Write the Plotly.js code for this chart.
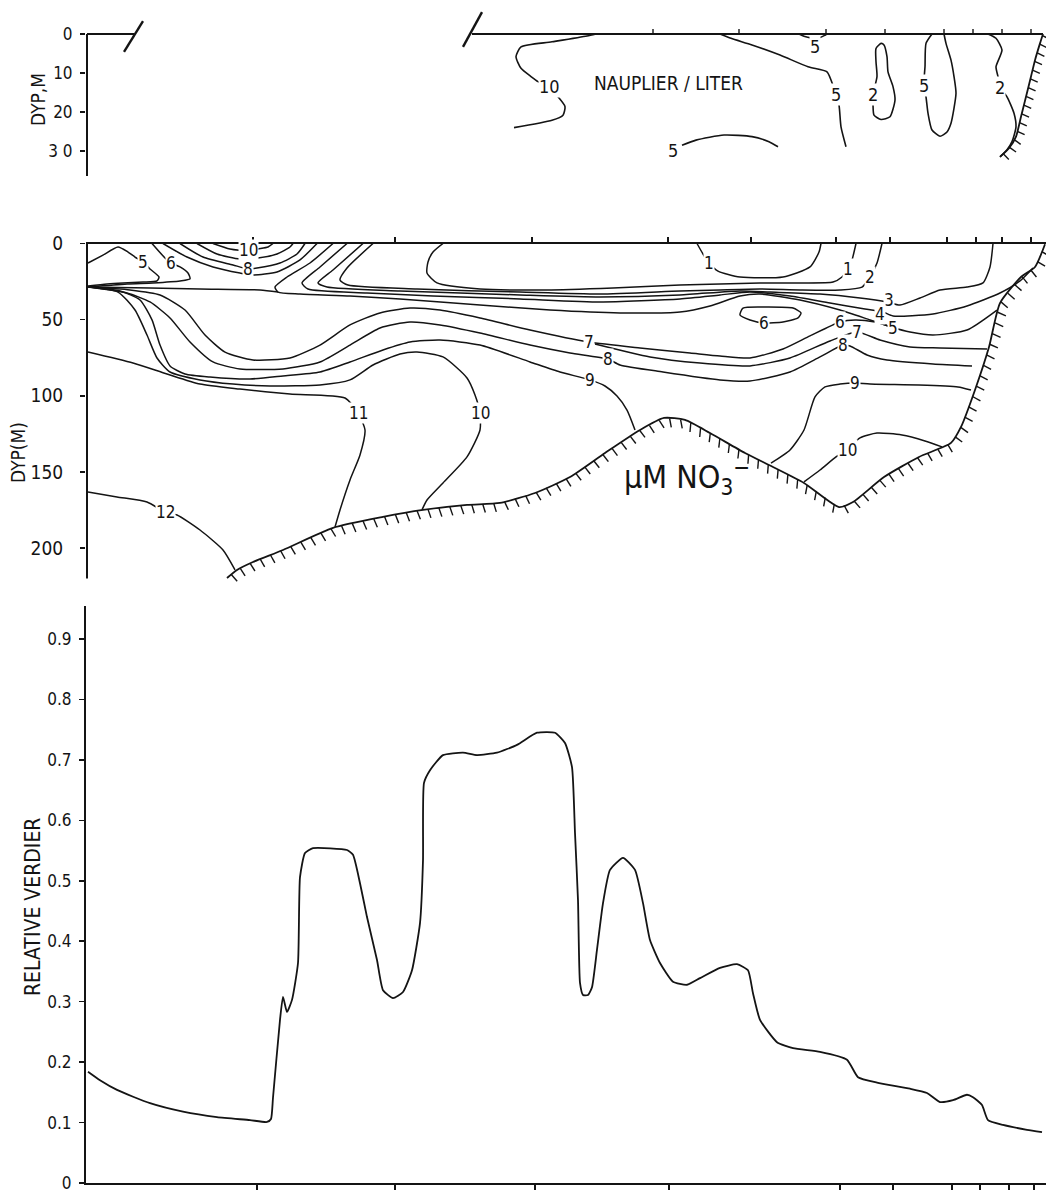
<!DOCTYPE html>
<html><head><meta charset="utf-8">
<script src="https://cdn.plot.ly/plotly-3.0.1.min.js"></script>
<style>html,body{margin:0;padding:0;background:#fff}#chart{width:1048px;height:1191px}</style>
</head><body><div id="chart"></div>
<script>
// ---------- DATA (x = distance along section, arbitrary units; d = depth in m) ----------
// Top panel: nauplii per liter
const naup10_x = [509,500,465,434,429,434,444,451,462,471,478,476,465,427];
const naup10_d = [0,0.5,2.0,3.3,5.8,8.8,10.9,12.2,13.5,16.1,18.6,20.8,22.1,24.0];
const naup5a_x = [712,717,724,733,738,740];
const naup5a_d = [0,0.6,1.0,0.9,0.3,0];
const naup5b_x = [633,644,665,693,721,740,744,749,752,754,759];
const naup5b_d = [0,1.1,2.8,5.4,8.4,9.7,11.8,15.6,18.2,23.8,28.9];
const naup2a_x = [794,789,789,790,786,786,787,794,803,808,806,801,800,797,794];
const naup2a_d = [2.4,3.7,7.1,10.9,15.6,18.2,20.8,21.9,21.2,16.9,13.5,9.7,5.8,2.8,2.4];
const naup5c_x = [845,839,838,837,837,839,841,845,853,860,864,869,867,864,859,857];
const naup5c_d = [0,2.4,8.4,11.8,13.3,16.1,20.3,24.6,26.2,25.1,22.9,15.2,10.9,6.7,2.4,0];
const naup2b_x = [901,909,915,909,911,913,920,927,929,925,920,913];
const naup2b_d = [0,1.1,4.1,8.4,10.9,13.7,16.1,20.3,23.8,27.6,29.7,31.5];
const naup5d_x = [595,609,637,665,682,691];
const naup5d_d = [28.5,27.2,25.9,26.3,27.6,28.9];
const shoreTop_x = [913,922,929,934,939,944,948,953,956];
const shoreTop_d = [31.5,29.3,26.3,21.2,16.1,10.9,6.7,2.4,0];
const topSurface_x = [0,47,null,385,956];
const topSurface_d = [0,0,null,0,0];
const breakA_x = [37,56], breakA_d = [4.6,-3.3];
const breakB_x = [376,395], breakB_d = [3.3,-5.6];
const topStations = [566,652,739,798,857,886,915,944];
const topLabel_text = ["10","5","5","2","5","2","5"];
const topLabel_x = [462,728,749,786,837,913,586];
const topLabel_d = [13.5,3.2,15.6,15.6,13.3,13.7,29.9];
const topDepthTicks = [0,10,20,30];
const topDepthText = ["0","10","20","3 0"];

// Middle panel: nitrate (uM)
const n5a_x = [1,16,31,41,48,56,63,72,70,56,36,20,1];
const n5a_d = [12.8,7.6,2.3,5.6,8.9,12.1,16.7,22.0,24.6,25.3,25.9,26.6,27.9];
const n6a_x = [65,78,84,93,101,103,93,66,40,1];
const n6a_d = [0,9.5,12.8,15.4,19.4,23.3,24.6,25.9,26.6,28.6];
const n7b_x = [76,100,126,153,166,190,213,230];
const n7b_d = [0,8.9,15.4,19.4,20.7,18.7,10.8,0];
const n8b_x = [93,116,146,161,170,193,210,218];
const n8b_d = [0,8.9,14.1,16.7,16.1,12.8,6.9,0];
const n9b_x = [110,130,153,171,190,203,206];
const n9b_d = [0,6.9,10.2,9.5,6.9,2.3,0];
const n10b_x = [126,143,161,171,181,186];
const n10b_d = [0,3.6,4.9,3.6,2.3,0];
const nBand_x = [1,63,113,173,191];
const nBand_d = [28.6,29.2,29.9,30.5,31.9];
const n5_x = [246,223,200,188,191,213,263,313,393,463,533,593,623,653,673,713,753,783,804,823,846,880,910];
const n5_d = [0,12.8,22.0,28.6,31.9,33.2,34.5,36.4,40.4,43.7,45.6,45.0,41.0,34.5,33.2,37.1,43.7,50.2,54.8,58.1,60.1,56.8,43.7];
const n4_x = [260,233,215,221,280,346,433,513,593,633,663,703,743,778,796,806,846,880,913,933,946];
const n4_d = [0,15.4,25.9,29.9,32.5,34.5,36.4,38.4,36.4,33.8,31.9,34.5,39.1,43.0,45.0,47.6,46.3,41.0,32.5,24.6,16.1];
const n3_x = [276,246,231,240,313,433,513,593,653,683,733,773,800,813,833,853,880,896,903,906];
const n3_d = [0,17.4,25.9,28.6,31.2,33.8,35.1,33.8,31.2,31.9,33.2,35.8,38.4,40.4,35.8,30.5,28.6,25.9,15.4,0];
const n2_x = [286,260,253,261,330,433,513,593,633,673,713,753,775,783,790,795];
const n2_d = [0,16.1,24.0,27.3,29.9,31.9,33.2,31.2,30.5,29.9,30.5,30.5,28.6,22.0,12.8,0];
const n1_x = [356,346,341,340,350,393,460,526,593,633,673,713,746,755,761,765,769];
const n1_d = [0,5.6,12.1,19.4,25.9,29.9,30.5,29.2,27.3,26.6,25.9,25.9,25.3,22.0,16.7,10.8,0];
const n1i_x = [610,616,622,631,653,696,723,732,734];
const n1i_d = [0,6.9,12.8,18.1,22.0,22.0,15.4,5.6,0];
const n6loop_x = [656,680,706,714,711,696,677,663,653,656];
const n6loop_d = [42.4,41.7,42.4,45.6,48.9,51.6,52.2,50.2,47.0,42.4];
const n7_x = [1,43,73,98,118,138,166,203,233,263,293,323,353,393,443,502,553,603,633,663,696,723,753,768,788,804];
const n7_d = [28.6,30.5,33.8,43.7,60.1,71.3,76.5,75.2,66.7,53.5,45.6,42.4,43.7,48.9,56.8,64.7,68.6,71.9,73.9,75.2,69.3,60.7,51.6,50.2,51.6,54.8];
const n7r_x = [508,563,613,663,703,743,770,793,823,853,900];
const n7r_d = [66.0,74.5,78.5,80.4,75.2,64.0,58.1,63.4,68.0,68.6,69.3];
const n8_x = [1,40,63,83,103,126,153,196,233,263,293,323,353,393,443,483,521,533,576,633,663,703,733,756,763,780,800,846,885];
const n8_d = [28.6,32.5,38.4,48.9,64.7,77.8,82.4,82.4,77.8,66.7,55.5,51.6,53.5,58.8,66.7,71.9,75.9,79.8,84.4,89.6,90.3,84.4,74.5,66.7,67.3,73.2,76.5,79.1,80.4];
const n9_x = [1,33,53,65,73,83,98,123,163,196,233,263,296,323,353,393,443,473,503,518,530,540,548];
const n9_d = [28.6,31.2,37.1,50.2,66.7,80.4,85.7,87.7,89.0,87.0,84.4,77.8,69.9,64.7,63.4,66.7,77.8,84.4,89.6,93.6,100.2,109.4,122.5];
const n9r_x = [684,703,717,728,738,753,768,783,832,871,884];
const n9r_d = [144.2,135.6,122.5,100.8,94.2,92.3,91.6,92.3,92.9,94.2,96.2];
const n10_x = [1,31,48,60,70,83,113,146,183,233,263,286,313,330,356,380,388,393,393,380,356,340,335];
const n10_d = [28.6,31.9,43.7,60.1,75.2,84.4,89.6,92.3,93.6,92.9,89.6,79.8,72.6,71.3,74.5,88.3,99.5,111.3,122.5,140.2,157.3,168.5,175.0];
const n10r_x = [717,733,749,760,773,790,815,838,855];
const n10r_d = [156.6,148.8,140.2,135.6,127.7,124.5,125.8,129.7,133.6];
const n11_x = [1,46,80,113,153,203,258,271,278,273,263,253,248];
const n11_d = [71.3,78.5,85.7,92.3,95.6,98.9,101.5,111.3,122.5,138.9,155.3,175.0,186.2];
const n12_x = [1,30,60,78,90,113,136,148];
const n12_d = [163.2,166.5,169.8,176.4,178.3,188.2,201.3,214.4];
const bottom_x = [140,150,166,196,246,296,336,380,413,448,483,518,553,577,598,623,658,686,717,752,766,797,832,864,874,888,902,913,934,948,958];
const bottom_d = [219.7,214.4,209.2,201.3,186.8,179.6,175.0,171.7,170.4,163.9,153.4,137.6,122.5,114.6,115.9,124.5,137.6,146.8,157.3,173.1,169.8,153.4,140.2,131.0,120.5,96.2,68.0,39.1,22.0,15.4,0.5];
const midStations = [166,308,445,581,664,749,803,860,889,915,944];
const midDepthTicks = [0,50,100,150,200];
const midLabel_text = ["5","6","10","8","1","1","2","3","4","5","6","6","7","7","8","8","9","9","10","10","11","12"];
const midLabel_x = [56,84,161,161,622,761,783,802,793,806,677,753,502,770,521,756,503,768,393,760,271,78];
const midLabel_d = [12.1,12.8,4.3,16.7,12.8,16.7,22.0,36.8,46.2,55.4,52.2,51.6,64.7,58.1,75.9,66.7,89.6,91.6,111.3,135.6,111.3,176.4];

// Bottom panel: relative values
const rel_x = [1,13,30,63,96,130,163,180,184,186,193,196,200,205,211,213,218,226,260,266,273,280,290,296,306,316,325,333,336,337,343,356,376,390,410,430,450,468,478,485,488,491,493,496,501,505,510,516,523,536,548,556,563,573,586,600,613,633,650,661,666,673,690,706,733,760,771,790,823,840,853,866,880,886,895,901,916,940,955];
const rel_v = [0.184,0.170,0.154,0.132,0.118,0.109,0.104,0.101,0.106,0.141,0.270,0.308,0.283,0.303,0.364,0.506,0.546,0.554,0.551,0.543,0.496,0.440,0.369,0.319,0.306,0.316,0.352,0.430,0.534,0.662,0.683,0.708,0.712,0.708,0.712,0.725,0.745,0.745,0.728,0.688,0.579,0.468,0.331,0.311,0.311,0.324,0.386,0.463,0.518,0.538,0.518,0.463,0.402,0.364,0.333,0.328,0.339,0.356,0.362,0.352,0.314,0.270,0.233,0.223,0.217,0.204,0.175,0.166,0.156,0.149,0.134,0.137,0.146,0.142,0.129,0.104,0.096,0.088,0.084];
const botStations = [170,308,448,582,753,806,865,893,922,947];
const relTicks = [0,0.1,0.2,0.3,0.4,0.5,0.6,0.7,0.8,0.9];
const relTickText = ["0","0.1","0.2","0.3","0.4","0.5","0.6","0.7","0.8","0.9"];

// ---------- LAYOUT GEOMETRY ----------
const W = 1048, H = 1191;
const INK = '#141414';
const FONT = '"DejaVu Sans Condensed","DejaVu Sans",sans-serif';
const XR = [-1, 959];
const XDOM = [86/W, 1046/W];
const topDom = [1-176/H, 1], topRange = [36.4, -8.72];
const midDom = [1-590/H, 1-243.5/H], midRange = [227.6, 0];
const botDom = [1-1183/H, 1-606/H], botRange = [0, 0.9547];
const pxX = (XDOM[1]-XDOM[0])*W/(XR[1]-XR[0]);
const pxYtop = (topDom[1]-topDom[0])*H/Math.abs(topRange[0]-topRange[1]);
const pxYmid = (midDom[1]-midDom[0])*H/Math.abs(midRange[0]-midRange[1]);

function ln(x, y, xa, ya, w, shape) {
  return {type:'scatter', mode:'lines', x:x, y:y, xaxis:xa, yaxis:ya, hoverinfo:'skip', showlegend:false,
    line:{color:INK, width:w||1.5, shape:shape||'spline', smoothing:0.6}};
}
function hatch(xs, ds, sx, sy, spacing, len) {
  const P = xs.map((x,i)=>[x*sx, ds[i]*sy]);
  const ox=[], oy=[];
  let carry = spacing/2;
  for (let i=0;i<P.length-1;i++){
    const x0=P[i][0], y0=P[i][1], x1=P[i+1][0], y1=P[i+1][1];
    const dx=x1-x0, dy=y1-y0, L=Math.hypot(dx,dy);
    if (L===0) continue;
    const tx=dx/L, ty=dy/L;
    let ex=-ty+0.35, ey=tx+0.35; const el=Math.hypot(ex,ey); ex/=el; ey/=el;
    let s=carry;
    while (s<=L){
      const px=x0+tx*s, py=y0+ty*s;
      ox.push(px/sx, (px+ex*len)/sx, null);
      oy.push(py/sy, (py+ey*len)/sy, null);
      s+=spacing;
    }
    carry = s-L;
  }
  return {x:ox, y:oy};
}
function tickSegs(vals, y0, y1){
  const x=[], y=[];
  vals.forEach(v=>{x.push(v,v,null); y.push(y0,y1,null);});
  return {x:x, y:y};
}

const traces = [];
// top panel
traces.push(ln(topSurface_x, topSurface_d, 'x','y', 2.2, 'linear'));
traces.push(ln(breakA_x, breakA_d, 'x','y', 2.4, 'linear'));
traces.push(ln(breakB_x, breakB_d, 'x','y', 2.4, 'linear'));
const tt = tickSegs(topStations, 0, -1.3);
traces.push(ln(tt.x, tt.y, 'x','y', 1.4, 'linear'));
traces.push(ln([0,0],[0,36.4],'x','y',2,'linear'));
[[naup10_x,naup10_d],[naup5a_x,naup5a_d],[naup5b_x,naup5b_d],[naup2a_x,naup2a_d],[naup5c_x,naup5c_d],[naup2b_x,naup2b_d],[naup5d_x,naup5d_d]]
  .forEach(p=>traces.push(ln(p[0],p[1],'x','y',1.6)));
traces.push(ln(shoreTop_x, shoreTop_d, 'x','y', 1.8));
const hTop = hatch(shoreTop_x, shoreTop_d, pxX, pxYtop, 9, 8);
traces.push(ln(hTop.x, hTop.y, 'x','y', 1.4, 'linear'));

// middle panel
traces.push(ln([0,0],[0,220],'x2','y2',2,'linear'));
[[n5a_x,n5a_d],[n6a_x,n6a_d],[n7b_x,n7b_d],[n8b_x,n8b_d],[n9b_x,n9b_d],[n10b_x,n10b_d],[nBand_x,nBand_d],
 [n5_x,n5_d],[n4_x,n4_d],[n3_x,n3_d],[n2_x,n2_d],[n1_x,n1_d],[n1i_x,n1i_d],[n6loop_x,n6loop_d],
 [n7_x,n7_d],[n7r_x,n7r_d],[n8_x,n8_d],[n9_x,n9_d],[n9r_x,n9r_d],[n10_x,n10_d],[n10r_x,n10r_d],[n11_x,n11_d],[n12_x,n12_d]]
  .forEach(p=>traces.push(ln(p[0],p[1],'x2','y2',1.5)));
traces.push(ln(bottom_x, bottom_d, 'x2','y2', 1.8));
const hMid = hatch(bottom_x, bottom_d, pxX, pxYmid, 11, 9);
traces.push(ln(hMid.x, hMid.y, 'x2','y2', 1.4, 'linear'));

// bottom panel
traces.push({type:'scatter', mode:'lines', x:rel_x, y:rel_v, xaxis:'x3', yaxis:'y3', hoverinfo:'skip', showlegend:false,
  line:{color:INK, width:1.8, shape:'spline', smoothing:0.5}});

const ann = [];
function lab(text, x, y, xr, yr, size, bg) {
  ann.push({text:text, x:x, y:y, xref:xr, yref:yr, showarrow:false, xanchor:'center', yanchor:'middle',
    font:{family:FONT, size:size, color:INK}, bgcolor: bg ? '#ffffff' : 'rgba(0,0,0,0)', borderpad:0});
}
topLabel_text.forEach((t,i)=>lab(t, topLabel_x[i], topLabel_d[i], 'x','y',18,true));
lab('NAUPLIER / LITER', 581, 12.6, 'x','y', 19, true);
midLabel_text.forEach((t,i)=>lab(t, midLabel_x[i], midLabel_d[i], 'x2','y2',17,true));
lab('μM NO<sub>3</sub><sup>−</sup>', 600, 153.4, 'x2','y2', 32, false);
// axis titles
ann.push({text:'DYP,M', x:38/W, y:1-100/H, xref:'paper', yref:'paper', showarrow:false, textangle:-90,
  xanchor:'center', yanchor:'middle', font:{family:FONT, size:19, color:INK}});
ann.push({text:'DYP(M)', x:18/W, y:1-453/H, xref:'paper', yref:'paper', showarrow:false, textangle:-90,
  xanchor:'center', yanchor:'middle', font:{family:FONT, size:19, color:INK}});
ann.push({text:'RELATIVE VERDIER', x:33/W, y:1-907/H, xref:'paper', yref:'paper', showarrow:false, textangle:-90,
  xanchor:'center', yanchor:'middle', font:{family:FONT, size:21, color:INK}});

const yBase = {showgrid:false, zeroline:false, ticks:'outside', ticklen:5, tickwidth:1.6, tickcolor:INK,
  tickfont:{family:FONT, size:17, color:INK}, ticklabelstandoff:4, ticklabeloverflow:'allow'};
const xBase = {showgrid:false, zeroline:false, range:XR, domain:XDOM};

const layout = {
  width:W, height:H, margin:{l:0,r:0,t:0,b:0}, paper_bgcolor:'#fff', plot_bgcolor:'#fff', showlegend:false,
  xaxis: Object.assign({}, xBase, {anchor:'y', showline:false, ticks:'', showticklabels:false}),
  yaxis: Object.assign({}, yBase, {domain:topDom, range:topRange, anchor:'x', showline:false,
    tickvals:topDepthTicks, ticktext:topDepthText, ticklabelstandoff:4}),
  xaxis2: Object.assign({}, xBase, {anchor:'y2', side:'top', showline:true, linewidth:2, linecolor:INK,
    ticks:'outside', ticklen:5, tickwidth:1.4, tickcolor:INK, tickvals:midStations, showticklabels:false}),
  yaxis2: Object.assign({}, yBase, {domain:midDom, range:midRange, anchor:'x2', showline:false, tickvals:midDepthTicks,
    tickfont:{family:FONT, size:19, color:INK}, ticklabelstandoff:13}),
  xaxis3: Object.assign({}, xBase, {anchor:'y3', showline:true, linewidth:2, linecolor:INK,
    ticks:'outside', ticklen:5, tickwidth:1.4, tickcolor:INK, tickvals:botStations, showticklabels:false}),
  yaxis3: Object.assign({}, yBase, {domain:botDom, range:botRange, anchor:'x3', showline:true, linewidth:2, linecolor:INK,
    tickvals:relTicks, ticktext:relTickText}),
  annotations: ann
};
Plotly.newPlot('chart', traces, layout, {staticPlot:true, displayModeBar:false});
</script></body></html>
